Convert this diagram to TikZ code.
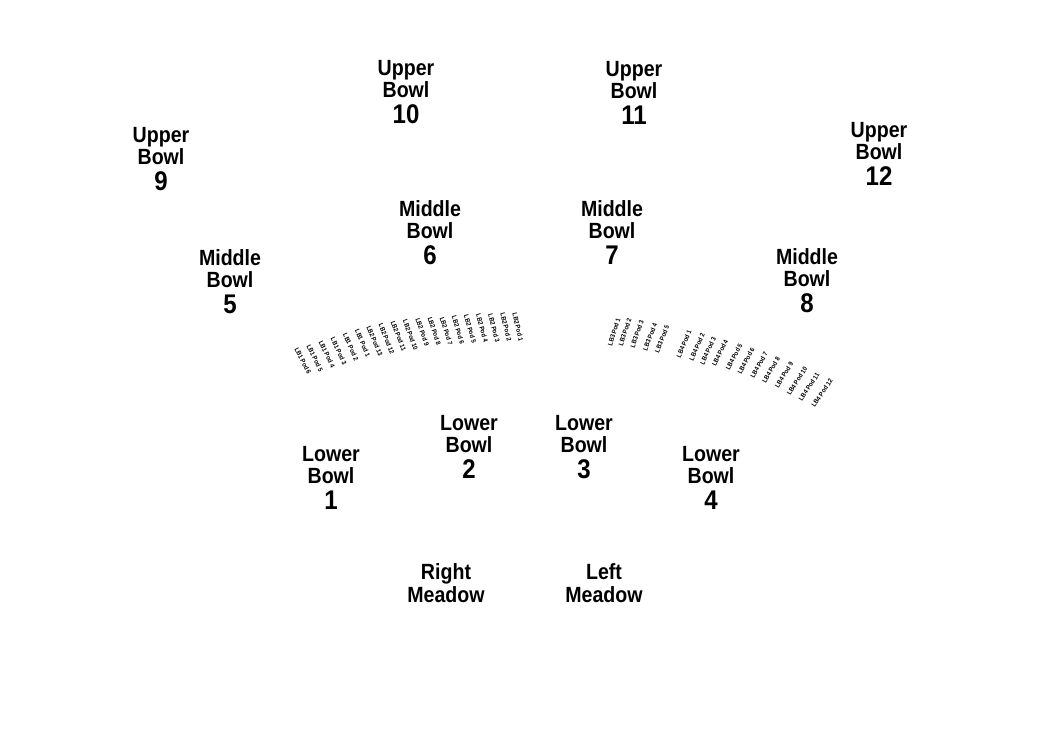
\documentclass[tikz,border=0pt]{standalone}
\usepackage{fontspec}
\setmainfont{Liberation Sans}
\newfontfamily\narrowfont[FakeStretch=0.89]{Liberation Sans}
\tikzset{
  word/.style={font=\narrowfont\fontsize{22}{22}\selectfont\bfseries, inner sep=0pt, anchor=base},
  num/.style={font=\narrowfont\fontsize{27}{27}\selectfont\bfseries, inner sep=0pt, anchor=base},
  pod/.style={font=\narrowfont\fontsize{6.6}{6.6}\selectfont\bfseries, inner sep=0pt, anchor=center},
}
% block: name, x, baseline y of first line, line1, line2, number
\newcommand{\bowlblock}[6]{%
  \node[word] (#1a) at (#2,#3) {#4};
  \node[word] (#1b) at (#2,#3+22.5) {#5};
  \node[num]  (#1c) at (#2,#3+48.5) {#6};
}
\newcommand{\meadowblock}[5]{%
  \node[word] (#1a) at (#2,#3) {#4};
  \node[word] (#1b) at (#2,#3+23.5) {#5};
}
\begin{document}
\begin{tikzpicture}[x=1pt,y=-1pt]
\useasboundingbox (0,0) rectangle (1050,740);
\bowlblock{ub10}{406}{75}{Upper}{Bowl}{10}
\bowlblock{ub11}{634}{76}{Upper}{Bowl}{11}
\bowlblock{ub9}{161}{142}{Upper}{Bowl}{9}
\bowlblock{ub12}{879}{137}{Upper}{Bowl}{12}
\bowlblock{mb6}{430}{216}{Middle}{Bowl}{6}
\bowlblock{mb7}{612}{216}{Middle}{Bowl}{7}
\bowlblock{mb5}{230}{265}{Middle}{Bowl}{5}
\bowlblock{mb8}{807}{264}{Middle}{Bowl}{8}
\bowlblock{lb2}{469}{430}{Lower}{Bowl}{2}
\bowlblock{lb3}{584}{430}{Lower}{Bowl}{3}
\bowlblock{lb1}{331}{461}{Lower}{Bowl}{1}
\bowlblock{lb4}{711}{461}{Lower}{Bowl}{4}
\meadowblock{rm}{446}{579}{Right}{Meadow}
\meadowblock{lm}{604}{579}{Left}{Meadow}
% left pods
\node[pod, rotate=-63.0] (lbap6) at (303.0,361) {LB1 Pod 6};
\node[pod, rotate=-63.8] (lbap5) at (314.9,358) {LB1 Pod 5};
\node[pod, rotate=-64.6] (lbap4) at (326.9,354) {LB1 Pod 4};
\node[pod, rotate=-65.3] (lbap3) at (338.8,351) {LB1 Pod 3};
\node[pod, rotate=-66.1] (lbap2) at (350.8,347) {LB1 Pod 2};
\node[pod, rotate=-66.9] (lbap1) at (362.7,343) {LB1 Pod 1};
\node[pod, rotate=-67.7] (lbbp13) at (374.6,341) {LB2 Pod 13};
\node[pod, rotate=-68.5] (lbbp12) at (386.6,339) {LB2 Pod 12};
\node[pod, rotate=-69.2] (lbbp11) at (398.5,336) {LB2 Pod 11};
\node[pod, rotate=-70.0] (lbbp10) at (410.5,335) {LB2 Pod 10};
\node[pod, rotate=-70.8] (lbbp9) at (422.4,332) {LB2 Pod 9};
\node[pod, rotate=-71.6] (lbbp8) at (434.3,331) {LB2 Pod 8};
\node[pod, rotate=-72.4] (lbbp7) at (446.3,331) {LB2 Pod 7};
\node[pod, rotate=-73.1] (lbbp6) at (458.2,330) {LB2 Pod 6};
\node[pod, rotate=-73.9] (lbbp5) at (470.2,329) {LB2 Pod 5};
\node[pod, rotate=-74.7] (lbbp4) at (482.1,328) {LB2 Pod 4};
\node[pod, rotate=-75.5] (lbbp3) at (494.0,328) {LB2 Pod 3};
\node[pod, rotate=-76.3] (lbbp2) at (506.0,327) {LB2 Pod 2};
\node[pod, rotate=-77.0] (lbbp1) at (518.0,327) {LB2 Pod 1};
% right pods
\node[pod, rotate=73.0] (lbcp1) at (614,332) {LB3 Pod 1};
\node[pod, rotate=71.9] (lbcp2) at (625,332) {LB3 Pod 2};
\node[pod, rotate=70.8] (lbcp3) at (637,334) {LB3 Pod 3};
\node[pod, rotate=69.7] (lbcp4) at (650,337) {LB3 Pod 4};
\node[pod, rotate=68.6] (lbcp5) at (662,339) {LB3 Pod 5};
\node[pod, rotate=67.5] (lbdp1) at (684,344) {LB4 Pod 1};
\node[pod, rotate=66.4] (lbdp2) at (697,347) {LB4 Pod 2};
\node[pod, rotate=65.3] (lbdp3) at (708,351) {LB4 Pod 3};
\node[pod, rotate=64.2] (lbdp4) at (720,353) {LB4 Pod 4};
\node[pod, rotate=63.1] (lbdp5) at (734,357) {LB4 Pod 5};
\node[pod, rotate=62.0] (lbdp6) at (746,361) {LB4 Pod 6};
\node[pod, rotate=60.9] (lbdp7) at (759,365) {LB4 Pod 7};
\node[pod, rotate=59.8] (lbdp8) at (771,370) {LB4 Pod 8};
\node[pod, rotate=58.7] (lbdp9) at (784,375) {LB4 Pod 9};
\node[pod, rotate=57.6] (lbdp10) at (797,381) {LB4 Pod 10};
\node[pod, rotate=56.5] (lbdp11) at (809,387) {LB4 Pod 11};
\node[pod, rotate=55.4] (lbdp12) at (822,393) {LB4 Pod 12};
\end{tikzpicture}
\end{document}
